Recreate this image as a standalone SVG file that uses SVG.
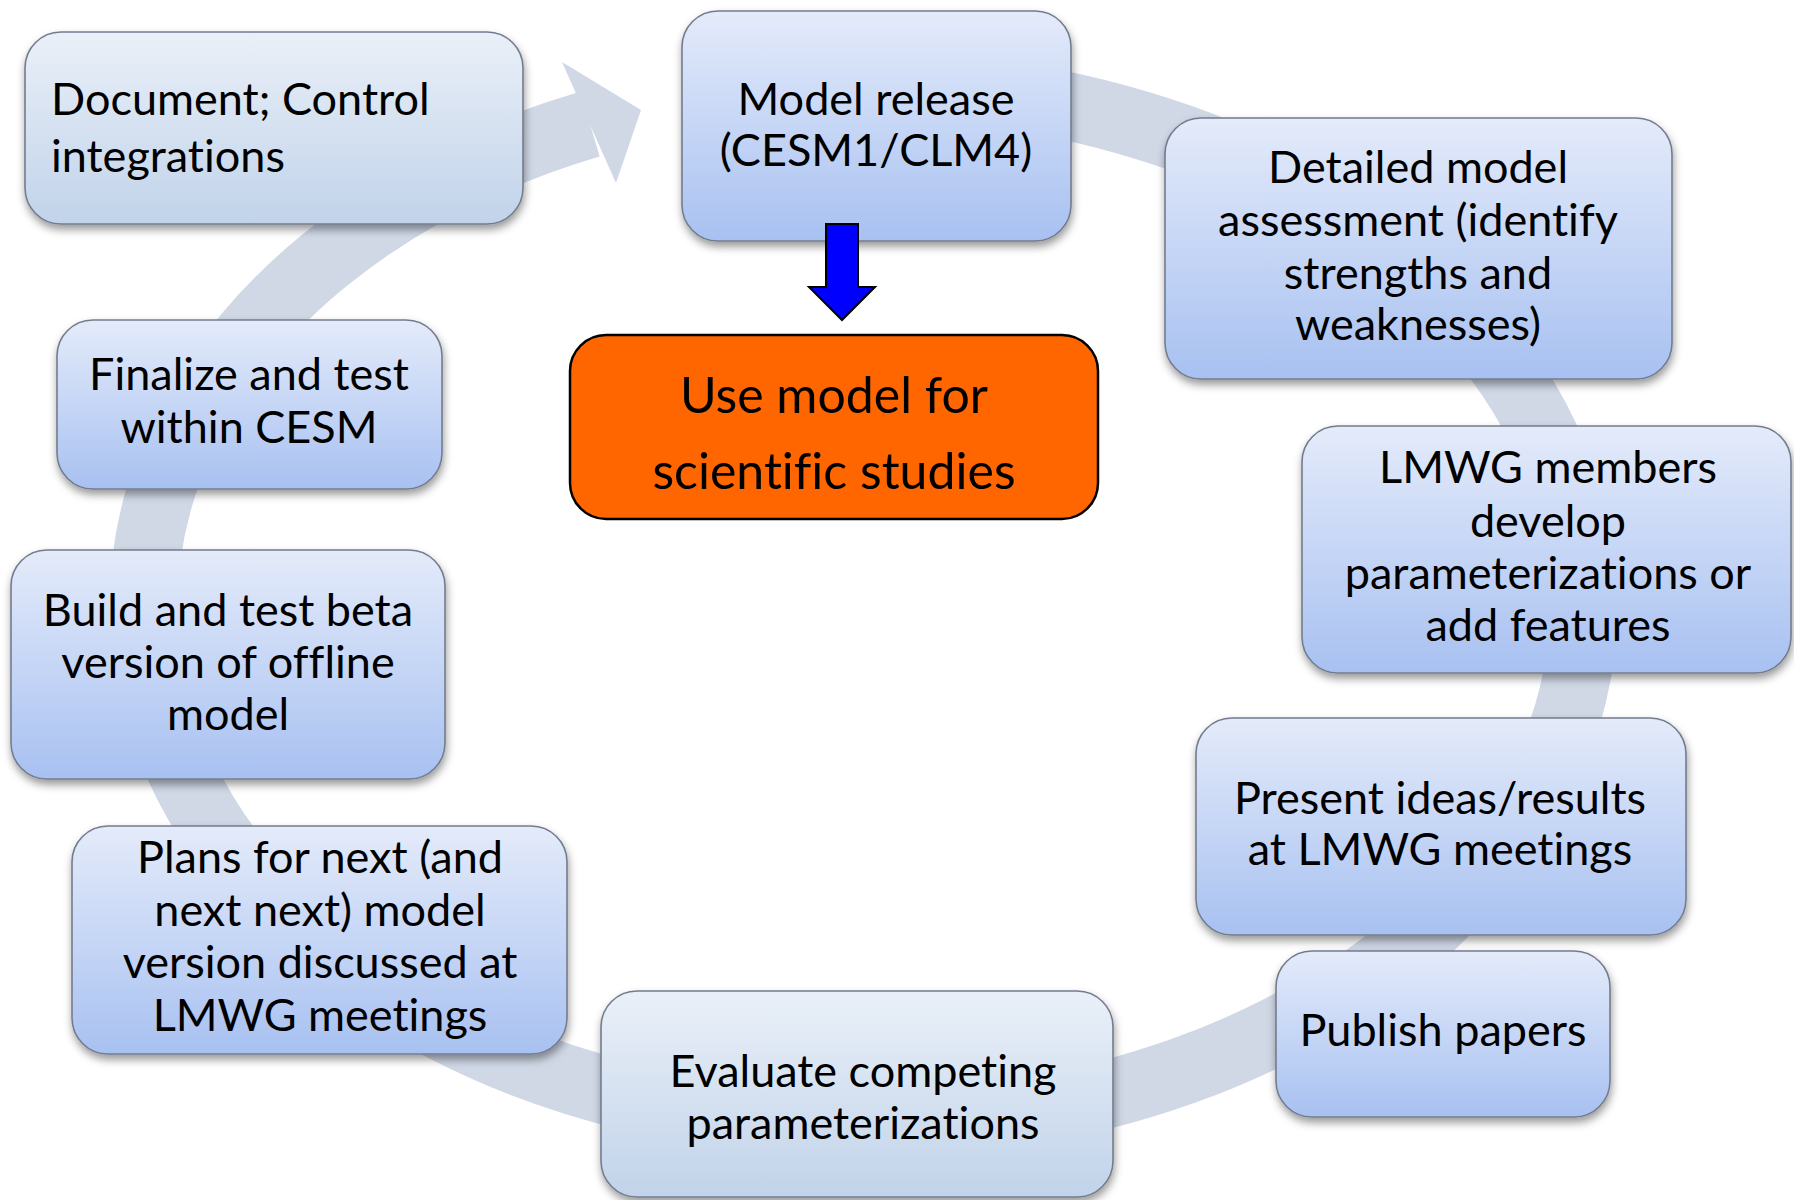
<svg xmlns="http://www.w3.org/2000/svg" width="1794" height="1200" viewBox="0 0 1794 1200">
<style>
.box{stroke:#737C8E;stroke-width:1.6;filter:url(#sh)}
.blue{fill:url(#gBlue)}
.grey{fill:url(#gGrey)}
.t{font-family:Lato,"Liberation Sans",sans-serif;font-size:45px;fill:#000;font-variant-ligatures:none}
.c{text-anchor:middle}
.ring{fill:none;stroke:#D0D8E6;stroke-width:68}
</style>
<defs>
<linearGradient id="gBlue" x1="0" y1="0" x2="0" y2="1">
<stop offset="0" stop-color="#E4EBFA"/>
<stop offset="1" stop-color="#A8C1F1"/>
</linearGradient>
<linearGradient id="gGrey" x1="0" y1="0" x2="0" y2="1">
<stop offset="0" stop-color="#EAF0F8"/>
<stop offset="1" stop-color="#C1D3EA"/>
</linearGradient>
<filter id="sh" x="-10%" y="-10%" width="120%" height="130%">
<feDropShadow dx="1" dy="5" stdDeviation="4" flood-color="#000" flood-opacity="0.4"/>
</filter>
</defs>
<g id="cycle">
<path class="ring" d="M 864 85 A 720 520 0 1 1 590 124"/>
<polygon points="562,62 641,110 616,183" fill="#D0D8E6"/>
</g>
<g id="n1"><rect class="box grey" x="25" y="32" width="498" height="192" rx="36"/>
<text class="t" x="51" y="115">Document; Control</text><text class="t" x="51" y="172">integrations</text></g>
<g id="n2"><rect class="box blue" x="682" y="11" width="389" height="230" rx="36"/>
<text class="t c" x="876" y="115">Model release</text><text class="t c" x="876" y="166">(CESM1/CLM4)</text></g>
<g id="n3"><rect class="box blue" x="1165" y="118" width="507" height="261" rx="36"/>
<text class="t c" x="1418" y="183">Detailed model</text><text class="t c" x="1418" y="236">assessment (identify</text><text class="t c" x="1418" y="289">strengths and</text><text class="t c" x="1418" y="340">weaknesses)</text></g>
<g id="n4"><rect class="box blue" x="1302" y="426" width="489" height="247" rx="36"/>
<text class="t c" x="1548" y="483">LMWG members</text><text class="t c" x="1548" y="537">develop</text><text class="t c" x="1548" y="589">parameterizations or</text><text class="t c" x="1548" y="641">add features</text></g>
<g id="n5"><rect class="box blue" x="1196" y="718" width="490" height="217" rx="36"/>
<text class="t c" x="1440" y="814">Present ideas/results</text><text class="t c" x="1440" y="865">at LMWG meetings</text></g>
<g id="n6"><rect class="box blue" x="1276" y="951" width="334" height="166" rx="36"/>
<text class="t c" x="1443" y="1046">Publish papers</text></g>
<g id="n7"><rect class="box grey" x="601" y="991" width="512" height="206" rx="36"/>
<text class="t c" x="863" y="1087">Evaluate competing</text><text class="t c" x="863" y="1139">parameterizations</text></g>
<g id="n8"><rect class="box blue" x="72" y="826" width="495" height="228" rx="36"/>
<text class="t c" x="320" y="873">Plans for next (and</text><text class="t c" x="320" y="926">next next) model</text><text class="t c" x="320" y="978">version discussed at</text><text class="t c" x="320" y="1031">LMWG meetings</text></g>
<g id="n9"><rect class="box blue" x="11" y="550" width="434" height="229" rx="36"/>
<text class="t c" x="228" y="626">Build and test beta</text><text class="t c" x="228" y="678">version of offline</text><text class="t c" x="228" y="730">model</text></g>
<g id="n10"><rect class="box blue" x="57" y="320" width="385" height="169" rx="36"/>
<text class="t c" x="249" y="390">Finalize and test</text><text class="t c" x="249" y="443">within CESM</text></g>
<g id="use"><rect x="570" y="335" width="528" height="184" rx="36" fill="#FF6600" stroke="#000" stroke-width="2.5"/>
<text class="t c" x="834" y="413" style="font-size:50px">Use model for</text><text class="t c" x="834" y="489" style="font-size:50px">scientific studies</text></g>
<g id="connectors">
<polygon points="826,224 858,224 858,287 875,287 842,320 809,287 826,287" fill="#0000FF" stroke="#000" stroke-width="2"/>
</g>
</svg>
